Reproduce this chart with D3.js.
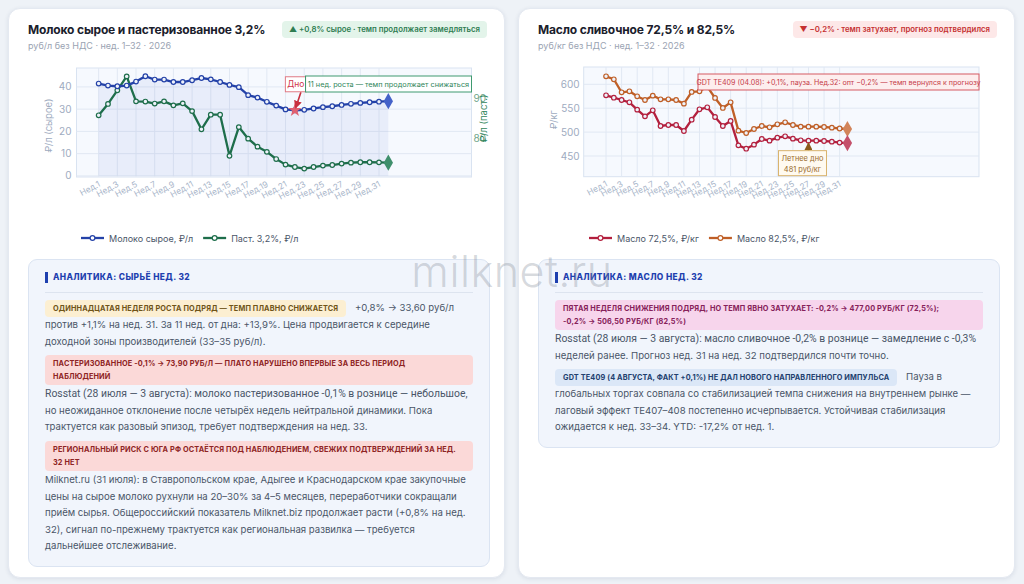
<!DOCTYPE html>
<html lang="ru">
<head>
<meta charset="UTF-8" />
<title>Молоко и масло — нед. 32</title>
<script src="https://d3js.org/d3.v7.min.js"></script>
<style>
  body { margin: 0; background: #eef2f7; font-family: Inter, "Noto Sans", sans-serif; width: 1024px; height: 584px; position: relative; overflow: hidden; }
  .card { position: absolute; top: 8px; width: 497px; height: 570px; background: #fff; border-radius: 12px; box-shadow: 0 1px 4px rgba(30,50,90,0.10); border: 1px solid #e4e9f1; box-sizing: border-box; }
  .title { position: absolute; left: 19px; top: 13px; font-size: 12px; font-weight: 700; color: #1a202c; letter-spacing: -0.15px; }
  .sub { position: absolute; left: 19px; top: 31px; font-size: 9px; color: #9aa3b2; }
  .badge { position: absolute; top: 12px; right: 17px; height: 17px; line-height: 17px; padding: 0 7px; border-radius: 4px; font-size: 7.8px; font-weight: 600; }
  .badge.up { background: #e3f4ea; color: #2f7d52; }
  .badge.down { background: #fde8e8; color: #c53030; }
  svg.chart { position: absolute; left: 0; top: 55px; }
  .ana { position: absolute; left: 19px; top: 250px; width: 462px; background: #f1f5fc; border: 1px solid #dbe4f2; border-radius: 9px; box-sizing: border-box; padding: 12px 16px 6px 16px; font-size: 9.6px; line-height: 16.6px; color: #4a5568; }
  .ana h4 { margin: 0; font-size: 8.4px; font-weight: 800; letter-spacing: 0.4px; color: #1e40af; border-left: 3px solid #1e40af; padding-left: 5px; line-height: 11px; }
  .ana hr { border: 0; border-top: 1px solid #dde4ef; margin: 9px 0 7px 0; }
  .ana p { margin: 0 0 5px 0; }
  .tag { display: inline-block; padding: 2px 8px; border-radius: 4px; font-size: 7.3px; font-weight: 700; line-height: 13px; letter-spacing: 0.15px; margin-right: 6px; }
  .tag.blk { display: block; margin-right: 0; margin-bottom: 1px; }
  .tag.y { background: #fcefd2; color: #6f5418; }
  .tag.r { background: #fbd9d8; color: #8e2424; }
  .tag.p { background: #f7d5ec; color: #86215a; }
  .tag.b { background: #dbe7f7; color: #22406e; }
  .ros { font-family: Roboto, sans-serif; font-size: 10.4px; }
  .wm { position: absolute; left: 0; width: 1024px; top: 245px; text-align: center; font-size: 43px; font-weight: 300; color: rgba(130,138,150,0.33); pointer-events: none; letter-spacing: 0.5px; }
</style>
</head>
<body>

<div class="card" id="card-milk" style="left:8px">
  <div class="title">Молоко сырое и пастеризованное 3,2%</div>
  <div class="sub">руб/л без НДС · нед. 1–32 · 2026</div>
  <div class="badge up">▲ +0,8% сырое · темп продолжает замедляться</div>
  <svg class="chart" id="chart-milk" width="497" height="185"></svg>
  <div class="ana">
    <h4>АНАЛИТИКА: СЫРЬЁ НЕД. 32</h4>
    <hr />
    <p><span class="tag y">ОДИННАДЦАТАЯ НЕДЕЛЯ РОСТА ПОДРЯД — ТЕМП ПЛАВНО СНИЖАЕТСЯ</span> +0,8% → 33,60 руб/л против +1,1% на нед. 31. За 11 нед. от дна: +13,9%. Цена продвигается к середине доходной зоны производителей (33–35 руб/л).</p>
    <p style="margin-bottom:0"><span class="tag r blk">ПАСТЕРИЗОВАННОЕ -0,1% → 73,90 РУБ/Л — ПЛАТО НАРУШЕНО ВПЕРВЫЕ ЗА ВЕСЬ ПЕРИОД<br>НАБЛЮДЕНИЙ</span><span class="ros">Rosstat (28 июля — 3 августа): молоко пастеризованное -0,1% в рознице — небольшое,</span> но неожиданное отклонение после четырёх недель нейтральной динамики. Пока трактуется как разовый эпизод, требует подтверждения на нед. 33.</p>
    <p style="margin-top:5px"><span class="tag r blk">РЕГИОНАЛЬНЫЙ РИСК С ЮГА РФ ОСТАЁТСЯ ПОД НАБЛЮДЕНИЕМ, СВЕЖИХ ПОДТВЕРЖДЕНИЙ ЗА НЕД.<br>32 НЕТ</span>Milknet.ru (31 июля): в Ставропольском крае, Адыгее и Краснодарском крае закупочные цены на сырое молоко рухнули на 20–30% за 4–5 месяцев, переработчики сокращали приём сырья. Общероссийский показатель Milknet.biz продолжает расти (+0,8% на нед. 32), сигнал по-прежнему трактуется как региональная развилка — требуется дальнейшее отслеживание.</p>
  </div>
</div>

<div class="card" id="card-butter" style="left:518px">
  <div class="title">Масло сливочное 72,5% и 82,5%</div>
  <div class="sub">руб/кг без НДС · нед. 1–32 · 2026</div>
  <div class="badge down">▼ −0,2% · темп затухает, прогноз подтвердился</div>
  <svg class="chart" id="chart-butter" width="497" height="185"></svg>
  <div class="ana">
    <h4>АНАЛИТИКА: МАСЛО НЕД. 32</h4>
    <hr />
    <p style="margin-bottom:0"><span class="tag p blk">ПЯТАЯ НЕДЕЛЯ СНИЖЕНИЯ ПОДРЯД, НО ТЕМП ЯВНО ЗАТУХАЕТ: -0,2% → 477,00 РУБ/КГ (72,5%);<br>-0,2% → 506,50 РУБ/КГ (82,5%)</span><span class="ros">Rosstat (28 июля — 3 августа): масло сливочное -0,2% в рознице — замедление с -0,3%</span> неделей ранее. Прогноз нед. 31 на нед. 32 подтвердился почти точно.</p>
    <p style="margin-top:5px"><span class="tag b">GDT TE409 (4 АВГУСТА, ФАКТ +0,1%) НЕ ДАЛ НОВОГО НАПРАВЛЕННОГО ИМПУЛЬСА</span> Пауза в глобальных торгах совпала со стабилизацией темпа снижения на внутреннем рынке — лаговый эффект TE407–408 постепенно исчерпывается. Устойчивая стабилизация ожидается к нед. 33–34. YTD: -17,2% от нед. 1.</p>
  </div>
</div>

<div class="wm">milknet.ru</div>

<script>
// недели 1..32
const weeks = [1,2,3,4,5,6,7,8,9,10,11,12,13,14,15,16,17,18,19,20,21,22,23,24,25,26,27,28,29,30,31,32];
const weekTicks = [1,3,5,7,9,11,13,15,17,19,21,23,25,27,29,31];

// молоко, руб/л
const rawMilk = [41.5, 40.6, 40.3, 40.6, 42.4, 44.8, 43.3, 43.3, 42.2, 42.2, 43.0, 44.0, 43.4, 42.2, 40.9, 39.9,
                 36.3, 35.2, 33.3, 31.6, 29.9, 29.5, 29.7, 30.3, 30.9, 31.3, 31.9, 32.4, 32.8, 33.1, 33.34, 33.60];
const pastMilk = [85.75, 88.6, 92.0, 95.5, 89.25, 89.2, 88.7, 89.25, 88.25, 88.75, 86.8, 82.25, 85.9, 85.9, 75.6, 82.8,
                  79.9, 77.9, 76.6, 74.8, 73.4, 72.8, 72.4, 72.8, 73.15, 73.3, 73.65, 73.9, 74.0, 74.0, 73.97, 73.90];
const milkTicksLeft = [0, 10, 20, 30, 40];
const milkTicksRight = [80, 90];

// масло, руб/кг
const butter72 = [577, 572, 567.2, 562.3, 547, 533, 545.6, 512.8, 514.9, 514.9, 502.3, 526, 547.7, 551.9, 531.6, 512.8,
                  523.3, 472.3, 465.3, 473.7, 485.6, 482.1, 488.4, 491.2, 486.3, 482.8, 482.1, 482.1, 481.4, 480, 478, 477];
const butter82 = [616.7, 610.5, 583.3, 585.4, 574.9, 567.2, 576.3, 568.6, 568.6, 567.2, 559.5, 584.0, 585.4, 595, 571.4, 550.5,
                  562.3, 503, 498.1, 506.5, 512.8, 510, 516.3, 520.5, 514.9, 511.4, 511.4, 511.4, 510.7, 509.3, 507.5, 506.5];
const butterTicks = [450, 500, 550, 600];

const milkNames = ["Молоко сырое, ₽/л", "Паст. 3,2%, ₽/л"];
const butterNames = ["Масло 72,5%, ₽/кг", "Масло 82,5%, ₽/кг"];

const tickColor = "#9eabc0";

function drawFrame(svg, x, y, box) {
  svg.append("rect")
    .attr("x", box.l).attr("y", box.t)
    .attr("width", box.r - box.l).attr("height", box.b - box.t)
    .attr("fill", "#f6f9fe").attr("stroke", "#d9e3f1");

  svg.append("g").selectAll("line").data(weekTicks).join("line")
    .attr("x1", d => x(d)).attr("x2", d => x(d))
    .attr("y1", box.t).attr("y2", box.b)
    .attr("stroke", "#e1e8f3");

  svg.append("g").selectAll("text").data(weekTicks).join("text")
    .attr("transform", d => `translate(${x(d) + 2},${box.b + 9}) rotate(-28)`)
    .attr("text-anchor", "end")
    .attr("font-size", 8.4)
    .attr("fill", "#a9b6ca")
    .text(d => "Нед." + d);
}

function drawSeries(svg, x, y, values, color, endColor) {
  const pts = weeks.map((w, i) => [w, values[i]]);
  const line = d3.line().x(d => x(d[0])).y(d => y(d[1]));
  svg.append("path").datum(pts)
    .attr("d", line).attr("fill", "none")
    .attr("stroke", color).attr("stroke-width", 2.3)
    .attr("stroke-linejoin", "round");
  svg.append("g").selectAll("circle").data(pts.slice(0, -1)).join("circle")
    .attr("cx", d => x(d[0])).attr("cy", d => y(d[1])).attr("r", 2.3)
    .attr("fill", "#eef2fa").attr("stroke", color).attr("stroke-width", 1.2);
  const last = pts[pts.length - 1];
  svg.append("path")
    .attr("d", d3.symbol(d3.symbolDiamond, 75)())
    .attr("transform", `translate(${x(last[0])},${y(last[1])})`)
    .attr("fill", endColor);
}

function drawLegend(svg, items, x0, gap, yy) {
  let cx = x0;
  items.forEach(it => {
    const g = svg.append("g").attr("transform", `translate(${cx},${yy})`);
    g.append("line").attr("x1", 0).attr("x2", 23).attr("stroke", it.color).attr("stroke-width", 2.3);
    g.append("circle").attr("cx", 11.5).attr("r", 2.4).attr("fill", "#fff").attr("stroke", it.color).attr("stroke-width", 1.2);
    const t = g.append("text").attr("x", 28).attr("y", 3.5).attr("font-size", 9).attr("fill", "#4a5568").text(it.name);
    cx += 28 + t.node().getComputedTextLength() + gap;
  });
}

// ---- молоко
(function () {
  const svg = d3.select("#chart-milk");
  const box = { l: 67.5, r: 462.5, t: 4, b: 113 };
  const x = d3.scaleLinear().domain([-1.37, 40.9]).range([box.l, box.r]);
  const y = d3.scaleLinear().domain([-0.5, 48.5]).range([box.b, box.t]);
  const y2 = d3.scaleLinear().domain([70.3, 97.6]).range([box.b, box.t]);

  drawFrame(svg, x, y, box);

  svg.append("g").selectAll("line").data(milkTicksLeft).join("line")
    .attr("x1", box.l).attr("x2", box.r)
    .attr("y1", d => y(d)).attr("y2", d => y(d))
    .attr("stroke", "#e1e8f3");

  // заливка под сырым молоком
  const area = d3.area().x((d, i) => x(weeks[i])).y0(y(0)).y1(d => y(d));
  svg.append("path").datum(rawMilk).attr("d", area).attr("fill", "rgba(60,90,200,0.07)");

  svg.append("g").selectAll("text").data(milkTicksLeft).join("text")
    .attr("x", box.l - 5).attr("y", d => y(d) + 3.5)
    .attr("text-anchor", "end").attr("font-size", 10).attr("fill", tickColor)
    .text(d => d);
  svg.append("text")
    .attr("transform", `translate(${box.l - 25},${(box.t + box.b) / 2 + 3}) rotate(-90)`)
    .attr("text-anchor", "middle").attr("font-size", 9.5).attr("fill", tickColor)
    .text("₽/л (сырое)");

  svg.append("g").selectAll("text").data(milkTicksRight).join("text")
    .attr("x", box.r + 2).attr("y", d => y2(d) + 3.5)
    .attr("font-size", 10).attr("fill", "#6fa58a")
    .text(d => d);
  svg.append("text")
    .attr("transform", `translate(${box.r + 15},${(box.t + box.b) / 2 - 4}) rotate(-90)`)
    .attr("text-anchor", "middle").attr("font-size", 9.5).attr("fill", "#2f855a")
    .text("₽/л (паст.)");

  drawSeries(svg, x, y2, pastMilk, "#1e6e4b", "#3f8f6c");
  drawSeries(svg, x, y, rawMilk, "#2442a8", "#4563c9");

  // дно
  const bi = weeks.indexOf(22);
  const px = x(22), py = y(rawMilk[bi]);
  svg.append("path").attr("d", d3.symbol(d3.symbolStar, 55)())
    .attr("transform", `translate(${px},${py})`).attr("fill", "#e06070");
  svg.append("defs").html(
    '<marker id="ahr" viewBox="0 0 10 10" refX="8" refY="5" markerWidth="5" markerHeight="5" orient="auto"><path d="M0,0L10,5L0,10z" fill="#c8303f"/></marker>');
  svg.append("line").attr("x1", px + 6).attr("y1", py - 18).attr("x2", px + 1).attr("y2", py - 3)
    .attr("stroke", "#c8303f").attr("stroke-width", 1.6).attr("marker-end", "url(#ahr)");
  svg.append("rect").attr("x", px - 9.5).attr("y", py - 33.5).attr("width", 21).attr("height", 15)
    .attr("fill", "#fff").attr("stroke", "#e07a85").attr("stroke-width", 1);
  svg.append("text").attr("x", px + 1).attr("y", py - 23).attr("text-anchor", "middle")
    .attr("font-size", 8.5).attr("fill", "#d0344a").text("Дно");

  const g = svg.append("g");
  g.append("rect").attr("x", box.r - 166).attr("y", 12).attr("width", 166).attr("height", 16)
    .attr("fill", "rgba(255,255,255,0.9)").attr("stroke", "#3f9a70").attr("stroke-width", 1);
  g.append("text").attr("x", box.r - 83).attr("y", 23).attr("text-anchor", "middle")
    .attr("font-size", 7.3).attr("fill", "#2f855a").text("11 нед. роста — темп продолжает снижаться");

  drawLegend(svg, [{ name: milkNames[0], color: "#2442a8" }, { name: milkNames[1], color: "#1e6e4b" }], 72, 10, 174);
})();

// ---- масло
(function () {
  const svg = d3.select("#chart-butter");
  const box = { l: 64.7, r: 460, t: 3, b: 112.7 };
  const x = d3.scaleLinear().domain([-1.87, 48.9]).range([box.l, box.r]);
  const y = d3.scaleLinear().domain([406.7, 636.2]).range([box.b, box.t]);

  drawFrame(svg, x, y, box);

  svg.append("g").selectAll("line").data(butterTicks).join("line")
    .attr("x1", box.l).attr("x2", box.r)
    .attr("y1", d => y(d)).attr("y2", d => y(d))
    .attr("stroke", "#e1e8f3");
  svg.append("g").selectAll("text").data(butterTicks).join("text")
    .attr("x", box.l - 4).attr("y", d => y(d) + 3.5)
    .attr("text-anchor", "end").attr("font-size", 10).attr("fill", tickColor)
    .text(d => d);
  svg.append("text")
    .attr("transform", `translate(${box.l - 27},${(box.t + box.b) / 2 - 2}) rotate(-90)`)
    .attr("text-anchor", "middle").attr("font-size", 9.5).attr("fill", tickColor)
    .text("₽/кг");

  drawSeries(svg, x, y, butter82, "#bf5f27", "#d2845a");
  drawSeries(svg, x, y, butter72, "#b3203e", "#c4506a");

  svg.append("defs").html(
    '<marker id="ahb2" viewBox="0 0 10 10" refX="8" refY="5" markerWidth="5" markerHeight="5" orient="auto"><path d="M0,0L10,5L0,10z" fill="#8a5a1c"/></marker>');

  // GDT
  const g = svg.append("g");
  g.append("rect").attr("x", box.r - 281).attr("y", 10).attr("width", 281).attr("height", 16)
    .attr("fill", "#fdeeee").attr("stroke", "#d55a63").attr("stroke-width", 1);
  g.append("text").attr("x", box.r - 140.5).attr("y", 21).attr("text-anchor", "middle")
    .attr("font-size", 7.1).attr("fill", "#c53b48")
    .text("GDT TE409 (04.08): +0,1%, пауза. Нед.32: опт −0,2% — темп вернулся к прогнозу");

  // летнее дно
  const li = weeks.indexOf(27);
  const px = x(27), py = y(butter72[li]);
  svg.append("line").attr("x1", px).attr("y1", py + 10).attr("x2", px).attr("y2", py + 3)
    .attr("stroke", "#8a5a1c").attr("stroke-width", 1.6).attr("marker-end", "url(#ahb2)");
  svg.append("rect").attr("x", px - 30).attr("y", py + 10).attr("width", 48).attr("height", 25)
    .attr("fill", "#fffaf0").attr("stroke", "#d9b46e").attr("stroke-width", 1);
  svg.append("text").attr("x", px - 6).attr("y", py + 20.5).attr("text-anchor", "middle")
    .attr("font-size", 7.4).attr("fill", "#9a6b2c").text("Летнее дно");
  svg.append("text").attr("x", px - 6).attr("y", py + 31).attr("text-anchor", "middle")
    .attr("font-size", 7.4).attr("fill", "#9a6b2c").text("481 руб/кг");

  drawLegend(svg, [{ name: butterNames[0], color: "#b3203e" }, { name: butterNames[1], color: "#bf5f27" }], 70, 10, 174);
})();
</script>
</body>
</html>
